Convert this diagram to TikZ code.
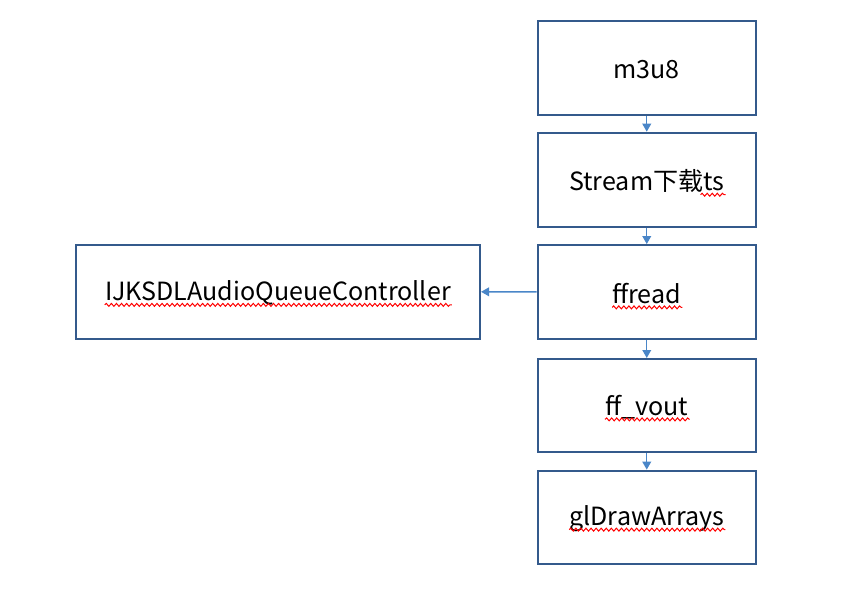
\documentclass[tikz,border=0pt]{standalone}
\usepackage{fontspec}
\setmainfont{Noto Sans CJK SC}
\usetikzlibrary{calc,arrows.meta,decorations.pathmorphing}
\definecolor{boxline}{RGB}{52,90,140}
\definecolor{arrowc}{RGB}{74,134,200}
\begin{document}
\begin{tikzpicture}[x=0.75pt,y=-0.75pt,
  box/.style={draw=boxline,line width=1.5pt,fill=white,inner sep=0pt},
  txt/.style={inner sep=0pt,font=\fontsize{18.8}{22}\selectfont},
  flow/.style={draw=arrowc,line width=1.1pt,-{Triangle[length=6pt,width=6.5pt]}},
  squig/.style={draw=red,line width=0.75pt,decorate,decoration={snake,amplitude=1.1pt,segment length=3.8pt}}]
\useasboundingbox[fill=white] (0,0) rectangle (852,590);
\node[box,minimum width=218.5*0.75pt,minimum height=94.3*0.75pt] (a) at (646.75,67.9) {};
\node[box,minimum width=218.5*0.75pt,minimum height=94*0.75pt] (b) at (646.75,179.7) {};
\node[box,minimum width=218.5*0.75pt,minimum height=93.7*0.75pt] (c) at (646.75,291.9) {};
\node[box,minimum width=218.5*0.75pt,minimum height=93*0.75pt] (d) at (646.75,405.5) {};
\node[box,minimum width=218.5*0.75pt,minimum height=93.3*0.75pt] (e) at (646.75,517.3) {};
\node[box,minimum width=404.3*0.75pt,minimum height=94*0.75pt] (l) at (277.85,291.7) {};
\node[txt] (ta) at ($(a)+(0,1.5)$) {m3u8};
\node[txt] (tb) at ($(b)+(0,1.5)$) {Stream下载ts};
\node[txt] (tc) at ($(c)+(0,1.5)$) {ffread};
\node[txt] (td) at ($(d)+(0,1.5)$) {ff\_vout};
\node[txt] (te) at ($(e)+(0,1.5)$) {glDrawArrays};
\node[txt] (tl) at ($(l)+(0,1.5)$) {IJKSDLAudioQueueController};
\draw[flow] (a) -- (b);
\draw[flow] (b) -- (c);
\draw[flow] (c) -- (d);
\draw[flow] (d) -- (e);
\draw[flow] (c) -- (l);
\draw[squig] ($(tb.base east)+(-24,4)$) -- ($(tb.base east)+(1,4)$);
\draw[squig] ($(tc.base west)+(0,4)$) -- ($(tc.base east)+(1,4)$);
\draw[squig] ($(td.base west)+(0,4)$) -- ($(td.base east)+(1,4)$);
\draw[squig] ($(te.base west)+(0,4)$) -- ($(te.base east)+(1,4)$);
\draw[squig] ($(tl.base west)+(0,4)$) -- ($(tl.base east)+(1,4)$);
\end{tikzpicture}
\end{document}
